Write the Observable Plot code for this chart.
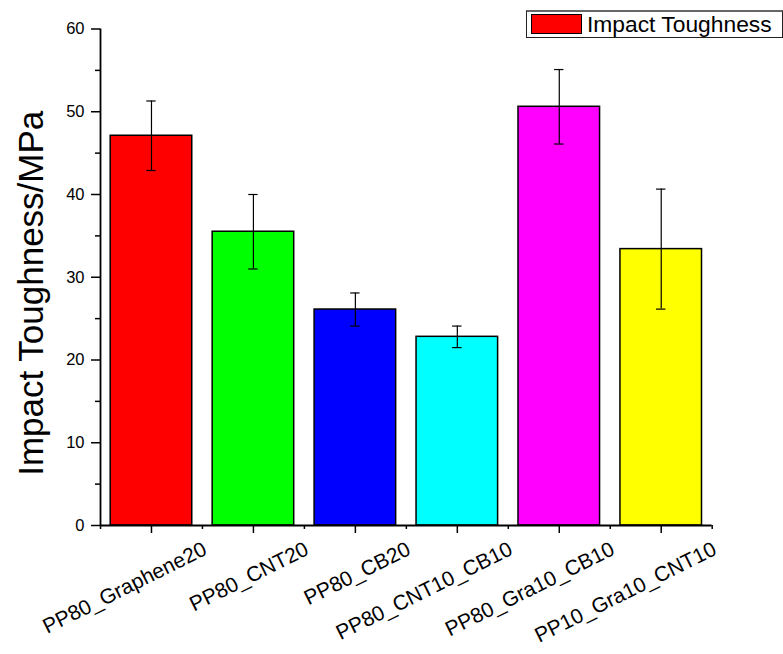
<!DOCTYPE html>
<html>
<head>
<meta charset="utf-8">
<script src="https://cdn.jsdelivr.net/npm/d3@7"></script>
<script src="https://cdn.jsdelivr.net/npm/@observablehq/plot@0.6"></script>
<style>
  html, body { margin: 0; padding: 0; background: #fff; }
  #wrap { position: relative; width: 783px; height: 654px; overflow: hidden; font-family: "Liberation Sans", Arial, sans-serif; }
  #legend { position: absolute; left: 526px; top: 10px; width: 255px; height: 25px; border: 1px solid #222; border-top: 2px solid #666; background: #fff; box-sizing: content-box; }
  #legend .sw { position: absolute; left: 4px; top: 2px; width: 49px; height: 18px; background: #ff0000; border: 1px solid #000; }
  #legend .lb { position: absolute; left: 60px; top: -1px; font-size: 22.8px; line-height: 26px; color: #000; white-space: nowrap; }
</style>
</head>
<body>
<div id="wrap"></div>
<script>
const categories = ["PP80_Graphene20", "PP80_CNT20", "PP80_CB20", "PP80_CNT10_CB10", "PP80_Gra10_CB10", "PP10_Gra10_CNT10"];
const values = [47.1, 35.5, 26.1, 22.8, 50.6, 33.4];
const errors = [4.2, 4.5, 2.0, 1.3, 4.5, 7.25];
const colors = ["#ff0000", "#00ff00", "#0000ff", "#00ffff", "#ff00ff", "#ffff00"];
const yMajor = [0, 10, 20, 30, 40, 50, 60];
const yMinor = [5, 15, 25, 35, 45, 55];
const seriesName = "Impact Toughness";
const yTitle = "Impact Toughness/MPa";

const data = categories.map((c, i) => ({i, c, v: values[i], e: errors[i], color: colors[i]}));
const centers = data.map(d => d.i + 0.5);
const bounds = d3.range(categories.length + 1);
const capHalf = 0.046;

const chart = Plot.plot({
  width: 783,
  height: 654,
  marginLeft: 100,
  marginRight: 71.3,
  marginTop: 28.5,
  marginBottom: 129,
  style: {fontFamily: "'Liberation Sans', Arial, sans-serif", color: "#000", background: "#fff"},
  x: {type: "linear", domain: [0, categories.length], axis: null},
  y: {domain: [0, 60], axis: null},
  marks: [
    Plot.rectY(data, {x1: d => d.i + 0.1, x2: d => d.i + 0.9, y1: 0, y2: "v", fill: "color", stroke: "#000", strokeWidth: 1.5}),
    Plot.ruleX(data, {x: d => d.i + 0.5, y1: d => d.v - d.e, y2: d => d.v + d.e, stroke: "#000", strokeWidth: 1.2}),
    Plot.ruleY(data, {y: d => d.v + d.e, x1: d => d.i + 0.5 - capHalf, x2: d => d.i + 0.5 + capHalf, stroke: "#000", strokeWidth: 1.2}),
    Plot.ruleY(data, {y: d => d.v - d.e, x1: d => d.i + 0.5 - capHalf, x2: d => d.i + 0.5 + capHalf, stroke: "#000", strokeWidth: 1.2}),
    Plot.axisY({ticks: yMajor, label: null, tickSize: 9, tickPadding: 7, fontSize: 16.5, tickFormat: d => String(d), strokeWidth: 1.5}),
    Plot.axisY({ticks: yMinor, label: null, tickSize: 5, tickFormat: () => "", strokeWidth: 1.5}),
    Plot.axisX({ticks: centers, label: null, tickSize: 8, tickFormat: () => "", strokeWidth: 1.5}),
    Plot.axisX({ticks: bounds, label: null, tickSize: 4, tickFormat: () => "", strokeWidth: 1.5}),
    Plot.ruleX([0], {y1: 0, y2: 60, stroke: "#000", strokeWidth: 1.8}),
    Plot.ruleY([0], {x1: 0, x2: categories.length, stroke: "#000", strokeWidth: 1.8}),
    Plot.text(data, {x: d => d.i + 0.5, y: 0, text: "c", rotate: -26.5, textAnchor: "end", lineAnchor: "top", dx: 50, dy: 15, fontSize: 21, fill: "#000"}),
    Plot.text([yTitle], {frameAnchor: "left", text: d => d, rotate: -90, textAnchor: "middle", lineAnchor: "bottom", dx: -58, dy: 16, fontSize: 35, fill: "#000"})
  ]
});

const wrap = document.getElementById("wrap");
wrap.appendChild(chart);
const legend = document.createElement("div");
legend.id = "legend";
legend.innerHTML = `<div class="sw"></div><div class="lb">${seriesName}</div>`;
wrap.appendChild(legend);
</script>
</body>
</html>
